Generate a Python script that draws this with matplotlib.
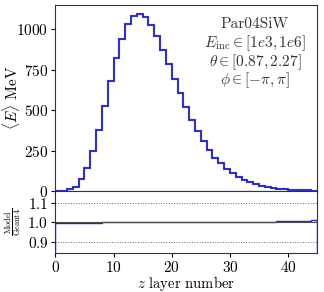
import numpy as np
import matplotlib
matplotlib.use("Agg")
import matplotlib.pyplot as plt

# mean energy per layer
layers = np.arange(46)
geant4 = [1, 4, 12, 29, 74, 143, 247, 380, 529, 679, 822, 941, 1030, 1082,
          1095, 1073, 1028, 959, 874, 787, 692, 605, 518, 438, 371, 308,
          256, 208, 173, 136, 112, 90, 71, 55, 43, 34, 26, 20, 15, 13,
          10, 8, 6, 5, 4]
ratio = [0.995, 0.996, 0.997, 0.998, 0.998, 0.999, 0.999, 0.999, 1.0, 1.0,
         1.0, 1.0, 1.0, 1.0, 1.0, 1.0, 1.0, 1.0, 1.0, 1.0, 1.0, 1.0, 1.0,
         1.0, 1.0, 1.0, 1.001, 1.001, 1.001, 1.001, 1.002, 1.002, 1.002,
         1.003, 1.003, 1.003, 1.004, 1.004, 1.005, 1.005, 1.006, 1.006,
         1.007, 1.008, 1.01]
model = np.array(geant4) * np.array(ratio)
info = ["Par04SiW", r"$E_{\rm inc} \in [1e3, 1e6]$",
        r"$\theta \in [0.87, 2.27]$", r"$\phi \in [-\pi, \pi]$"]

plt.rcParams["font.family"] = "serif"
plt.rcParams["font.serif"] = ["cmr10"]
plt.rcParams["mathtext.fontset"] = "cm"
plt.rcParams["axes.formatter.use_mathtext"] = True
plt.rcParams["font.size"] = 11

fig = plt.figure(figsize=(3.24, 2.92), dpi=100)
ax = fig.add_axes([0.171, 0.345, 0.808, 0.638])
axr = fig.add_axes([0.171, 0.132, 0.808, 0.213], sharex=ax)

ax.stairs(geant4, layers, color="0.5", lw=1.6)
ax.stairs(model, layers, color="#2323d0", lw=1.2)
ax.set_xlim(0, 45)
ax.set_yticks([0, 250, 500, 750, 1000])
ax.set_ylabel(r"$\langle E \rangle$ MeV")
ax.yaxis.set_label_coords(-0.128, 0.5)
ax.tick_params(labelbottom=False, length=3, pad=2)
for line, yy in zip(info, [0.899, 0.797, 0.695, 0.598]):
    ax.text(0.762, yy, line, transform=ax.transAxes, ha="center",
            va="center", color="0.2")

axr.axhline(1.0, color="0.3", lw=0.8)
axr.axhline(0.9, color="0.4", lw=0.7, ls=":")
axr.axhline(1.1, color="0.4", lw=0.7, ls=":")
axr.stairs(ratio, layers, color="#2323d0", lw=1.0)
axr.set_ylim(0.84, 1.16)
axr.set_yticks([0.9, 1.0, 1.1])
axr.set_xticks([0, 10, 20, 30, 40])
axr.set_ylabel(r"$\frac{\rm Model}{\rm Geant4}$", fontsize=8.5)
axr.yaxis.set_label_coords(-0.125, 0.5)
axr.set_xlabel(r"$z$ layer number", labelpad=-0.8, fontsize=10.5)
axr.tick_params(length=3, pad=2)

for a in (ax, axr):
    for s in a.spines.values():
        s.set_color("0.2")

fig.savefig("out.png", dpi=100)
